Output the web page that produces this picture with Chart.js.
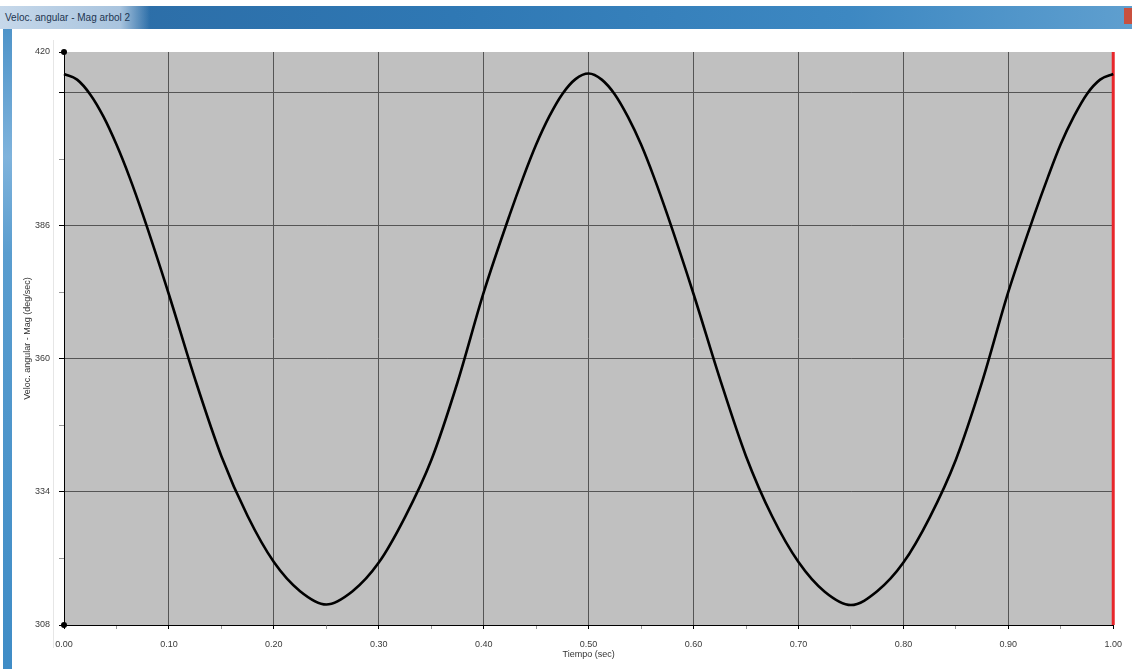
<!DOCTYPE html>
<html>
<head>
<meta charset="utf-8">
<title>Veloc. angular - Mag arbol 2</title>
<script src="https://cdn.jsdelivr.net/npm/chart.js@4.4.1/dist/chart.umd.min.js"></script>
<style>
  html, body { margin: 0; padding: 0; background: #fff; }
  body { width: 1132px; height: 669px; position: relative; overflow: hidden; font-family: "Liberation Sans", Arial, sans-serif; }
  #grafico { position: absolute; left: 0; top: 0; }
  #barra { position: absolute; left: 0; top: 6px; width: 1132px; height: 23px;
           background: linear-gradient(to right, #2b6aa3 0%, #2f78b4 40%, #3d88c2 75%, #5f9fcf 100%); }
  #barra .nombre { position: absolute; left: 0; top: 0; height: 23px; width: 150px;
           background: linear-gradient(to right, #c6d8ea, #a9c4de 80%, rgba(169,196,222,0)); 
           color: #1d3550; font-size: 10px; line-height: 23px; padding-left: 5px; box-sizing: border-box; white-space: nowrap; }
  #barra .cerrar { position: absolute; right: 0; top: 2px; width: 8px; height: 16px; background: #c9503f; }
  #borde { position: absolute; left: 3px; top: 29px; width: 9px; height: 640px;
           background: linear-gradient(to bottom, #4f94c9, #7fb3dc 20%, #5a9dcf 35%, #3f8cc6 100%); }
  #linea { position: absolute; left: 53px; top: 40px; width: 1px; height: 608px; background: #e6e6e6; }
</style>
</head>
<body>
<div id="linea"></div>
<canvas id="grafico" width="1132" height="669"></canvas>
<div id="barra"><div class="nombre">Veloc. angular - Mag arbol 2</div><div class="cerrar"></div></div>
<div id="borde"></div>
<script>
// time (sec) and angular velocity magnitude (deg/sec)
// (denser samples near the peaks, where the curve bends fastest)
var tiempo = [0.0000, 0.0125, 0.0250, 0.0375, 0.0500, 0.0625, 0.0750, 0.1000, 0.1250, 0.1500,
              0.1750, 0.2000, 0.2250, 0.2500, 0.2750, 0.3000, 0.3250, 0.3500, 0.3750, 0.4000,
              0.4250, 0.4375, 0.4500, 0.4625, 0.4750, 0.4875, 0.5000, 0.5125, 0.5250, 0.5375,
              0.5500, 0.5625, 0.5750, 0.6000, 0.6250, 0.6500, 0.6750, 0.7000, 0.7250, 0.7500,
              0.7750, 0.8000, 0.8250, 0.8500, 0.8750, 0.9000, 0.9250, 0.9375, 0.9500, 0.9625,
              0.9750, 0.9875, 1.0000];
var velocidad = [415.7, 414.6, 411.7, 407.4, 401.9, 395.5, 388.3, 372.6, 356.0, 341.0,
                 329.3, 320.3, 314.6, 312.0, 314.6, 320.2, 329.1, 340.2, 355.4, 373.0,
                 388.3, 395.4, 401.9, 407.4, 411.8, 414.7, 415.8, 414.6, 411.7, 407.3,
                 401.9, 395.4, 388.2, 372.7, 356.2, 341.0, 329.2, 320.3, 314.5, 311.9,
                 314.6, 320.2, 329.0, 340.3, 355.5, 373.1, 388.3, 395.4, 402.0, 407.4,
                 411.8, 414.6, 415.7];

// red time cursor
var cursorTiempo = [1.00, 1.00];
var cursorValor = [308, 420];

var xTicks = [0.00, 0.05, 0.10, 0.15, 0.20, 0.25, 0.30, 0.35, 0.40, 0.45, 0.50,
              0.55, 0.60, 0.65, 0.70, 0.75, 0.80, 0.85, 0.90, 0.95, 1.00];
var xEtiquetas = [0.00, 0.10, 0.20, 0.30, 0.40, 0.50, 0.60, 0.70, 0.80, 0.90, 1.00];
var yTicks = [308, 321, 334, 347, 360, 373, 386, 399, 412, 420];
var yEtiquetas = [308, 334, 360, 386, 420];
var yRejilla = [334, 360, 386, 412];

function puntos(xs, ys) {
  var p = [];
  for (var i in xs) {
    p.push({x: xs[i], y: ys[i]});
  }
  return p;
}
function esta(lista, v) {
  for (var i in lista) { if (Math.abs(lista[i] - v) < 1e-6) return true; }
  return false;
}

// grey plot background + the two black dots on the y axis ends
var fondo = {
  id: 'fondo',
  beforeDraw: function(chart) {
    var a = chart.chartArea, c = chart.ctx;
    c.save();
    c.fillStyle = '#c0c0c0';
    c.fillRect(a.left, a.top, a.right - a.left, a.bottom - a.top);
    c.restore();
  },
  afterDraw: function(chart) {
    var c = chart.ctx, ys = chart.scales.y, xs = chart.scales.x;
    c.save();
    c.fillStyle = '#000';
    [ys.min, ys.max].forEach(function(v) {
      c.beginPath();
      c.arc(xs.getPixelForValue(xs.min), ys.getPixelForValue(v), 3, 0, Math.PI * 2);
      c.fill();
    });
    c.restore();
  }
};

var ctx = document.getElementById('grafico');
var grafico = new Chart(ctx, {
  type: 'line',
  data: {
    datasets: [
      {
        label: 'Veloc. angular - Mag',
        data: puntos(tiempo, velocidad),
        borderColor: '#000',
        borderWidth: 2.6,
        pointRadius: 0,
        cubicInterpolationMode: 'monotone',
        fill: false
      },
      {
        label: 'cursor',
        data: puntos(cursorTiempo, cursorValor),
        borderColor: '#e8262b',
        borderWidth: 3,
        pointRadius: 0,
        fill: false
      }
    ]
  },
  options: {
    responsive: false,
    animation: false,
    clip: false,
    layout: { padding: { left: 12, right: 16, top: 52, bottom: 0 } },
    plugins: { legend: { display: false }, tooltip: { enabled: false } },
    scales: {
      x: {
        type: 'linear',
        min: 0, max: 1,
        afterBuildTicks: function(s) { s.ticks = xTicks.map(function(v) { return {value: v}; }); },
        afterFit: function(s) { s.height = 44; },
        ticks: {
          autoSkip: false, maxRotation: 0, padding: 10,
          color: '#3a3a3a', font: { family: 'Liberation Sans', size: 9 },
          callback: function(v) { return esta(xEtiquetas, v) ? v.toFixed(2) : ''; }
        },
        grid: {
          color: function(c) {
            var v = c.tick ? c.tick.value : null;
            return (v !== null && esta(xEtiquetas, v) && v > 0 && v < 1) ? '#555' : 'rgba(0,0,0,0)';
          },
          tickColor: function(c) {
            var v = c.tick ? c.tick.value : null;
            return esta(xEtiquetas, v) ? '#000' : '#999';
          },
          tickLength: 4, lineWidth: 1
        },
        border: { display: true, color: '#000', width: 1 },
        title: { display: true, text: 'Tiempo (sec)', color: '#333',
                 font: { family: 'Liberation Sans', size: 9 }, padding: { top: 0, bottom: 9 } }
      },
      y: {
        min: 308, max: 420,
        afterBuildTicks: function(s) { s.ticks = yTicks.map(function(v) { return {value: v}; }); },
        afterFit: function(s) { s.width = 52; },
        ticks: {
          autoSkip: false, padding: 9,
          color: '#3a3a3a', font: { family: 'Liberation Sans', size: 9 },
          callback: function(v) { return esta(yEtiquetas, v) ? String(v) : ''; }
        },
        grid: {
          color: function(c) {
            var v = c.tick ? c.tick.value : null;
            return esta(yRejilla, v) ? '#555' : 'rgba(0,0,0,0)';
          },
          tickColor: function(c) {
            var v = c.tick ? c.tick.value : null;
            return (esta(yEtiquetas, v) || esta(yRejilla, v)) ? '#000' : '#999';
          },
          tickLength: 5, lineWidth: 1
        },
        border: { display: true, color: '#000', width: 1 },
        title: { display: true, text: 'Veloc. angular - Mag (deg/sec)', color: '#333',
                 font: { family: 'Liberation Sans', size: 9 }, padding: { top: 10, bottom: 0 } }
      }
    }
  },
  plugins: [fondo]
});
</script>
</body>
</html>
